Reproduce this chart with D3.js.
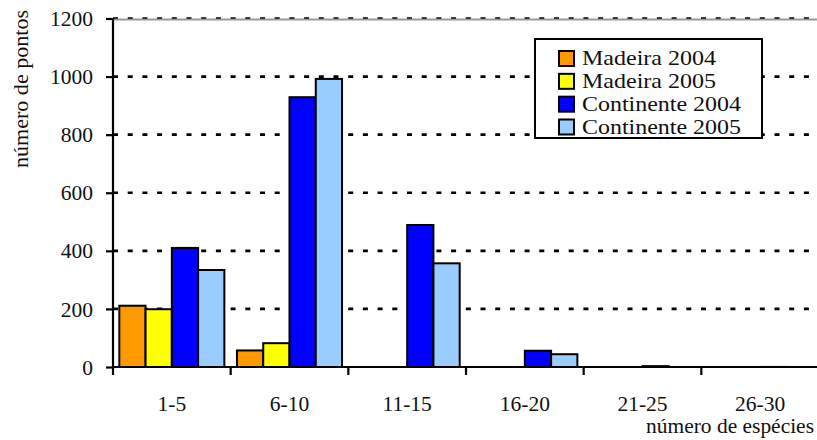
<!DOCTYPE html>
<html>
<head>
<meta charset="utf-8">
<script src="https://cdn.jsdelivr.net/npm/d3@7"></script>
<style>
  html, body { margin: 0; padding: 0; background: #fff; }
  #chart, #chart text { font-family: "Liberation Serif" !important; }
</style>
</head>
<body>
<svg id="chart" width="817" height="440" font-family="Liberation Serif"></svg>
<script>
// Species-count classes and number of survey points per class
const categories = ["1-5", "6-10", "11-15", "16-20", "21-25", "26-30"];
const seriesNames = ["Madeira 2004", "Madeira 2005", "Continente 2004", "Continente 2005"];
const madeira2004 = [211, 57, 0, 0, 0, 0];
const madeira2005 = [199, 82, 0, 0, 0, 0];
const continente2004 = [410, 929, 489, 56, 3, 1];
const continente2005 = [334, 992, 357, 44, 0, 0];
const yTicks = [0, 200, 400, 600, 800, 1000, 1200];
const colors = ["#FF9900", "#FFFF00", "#0000FF", "#99CCFF"];

const seriesValues = [madeira2004, madeira2005, continente2004, continente2005];
const FONT = '"Liberation Serif"';

const svg = d3.select("#chart");
const plotLeft = 113, plotRight = 819, plotTop = 18.5, plotBottom = 367;

const x = d3.scaleBand().domain(categories).range([plotLeft, plotRight]).paddingInner(0).paddingOuter(0);
const xs = d3.scaleBand().domain(seriesNames).range([0, x.bandwidth()]).paddingInner(0).paddingOuter(0.24);
const y = d3.scaleLinear().domain([0, 1200]).range([plotBottom, plotTop]);
const color = d3.scaleOrdinal().domain(seriesNames).range(colors);

// top border of the plot area
svg.append("line")
  .attr("x1", plotLeft).attr("x2", plotRight)
  .attr("y1", y(1200) + 1).attr("y2", y(1200) + 1)
  .attr("stroke", "#999").attr("stroke-width", 2.2);

// dotted horizontal gridlines
svg.append("g").selectAll("line")
  .data(yTicks.filter(d => d > 0))
  .join("line")
  .attr("x1", plotLeft).attr("x2", plotRight)
  .attr("y1", d => d === 1200 ? y(d) - 0.5 : y(d))
  .attr("y2", d => d === 1200 ? y(d) - 0.5 : y(d))
  .attr("stroke", "#000")
  .attr("stroke-width", d => d === 1200 ? 1.5 : 2.6)
  .attr("stroke-dasharray", "5,9.7");

// bars
const rows = [];
seriesValues.forEach((vals, si) => {
  vals.forEach((v, ci) => rows.push({ series: seriesNames[si], cat: categories[ci], value: v }));
});

svg.append("g").selectAll("rect")
  .data(rows.filter(d => d.value > 0))
  .join("rect")
  .attr("x", d => x(d.cat) + xs(d.series))
  .attr("width", xs.bandwidth())
  .attr("y", d => y(d.value))
  .attr("height", d => y(0) - y(d.value))
  .attr("fill", d => color(d.series))
  .attr("stroke", d => d.value < 2 ? "#555" : "#000")
  .attr("stroke-width", d => d.value < 2 ? 1.6 : 2);

// y axis
const yAxis = svg.append("g")
  .attr("transform", `translate(${plotLeft},0)`)
  .call(d3.axisLeft(y).tickValues(yTicks).tickSize(7).tickPadding(13).tickFormat(d3.format("d")))
  .attr("font-family", "Liberation Serif").attr("font-size", 21.5);
yAxis.select(".domain").attr("stroke", "#000").attr("stroke-width", 2.2)
  .attr("d", `M0,${y(1200) - 0.5}V${plotBottom + 8}`);
yAxis.selectAll(".tick line").attr("stroke", "#000").attr("stroke-width", 2.2);
yAxis.selectAll(".tick text")
  .attr("font-family", "Liberation Serif")
  .style("font-family", FONT).style("font-size", "21.5px")
  .attr("fill", "#111").attr("dy", "0.33em");

// x axis: category labels centred in each band
const xAxis = svg.append("g")
  .attr("transform", `translate(0,${plotBottom})`)
  .call(d3.axisBottom(x).tickSize(0).tickPadding(0))
  .attr("font-family", "Liberation Serif").attr("font-size", 21.5);
xAxis.select(".domain").attr("stroke", "#000").attr("stroke-width", 2.2)
  .attr("d", `M${plotLeft},0H${plotRight}`);
xAxis.selectAll(".tick text")
  .attr("font-family", "Liberation Serif")
  .style("font-family", FONT).style("font-size", "21.5px")
  .attr("fill", "#111")
  .attr("y", 44).attr("dy", 0);

// tick marks on the category boundaries
svg.append("g").selectAll("line")
  .data(categories.slice(1))
  .join("line")
  .attr("x1", d => x(d)).attr("x2", d => x(d))
  .attr("y1", plotBottom).attr("y2", plotBottom + 8)
  .attr("stroke", "#000").attr("stroke-width", 2.2);

// axis titles
svg.append("text")
  .attr("transform", "translate(28,168) rotate(-90)")
  .attr("font-family", "Liberation Serif")
  .style("font-family", FONT).style("font-size", "20px")
  .attr("fill", "#111")
  .attr("textLength", 158).attr("lengthAdjust", "spacingAndGlyphs")
  .text("número de pontos");

svg.append("text")
  .attr("x", 646).attr("y", 433)
  .attr("font-family", "Liberation Serif")
  .style("font-family", FONT).style("font-size", "21px")
  .attr("fill", "#111")
  .attr("textLength", 168).attr("lengthAdjust", "spacingAndGlyphs")
  .text("número de espécies");

// legend
const legend = svg.append("g");
legend.append("rect")
  .attr("x", 535).attr("y", 39).attr("width", 227).attr("height", 99)
  .attr("fill", "#fff").attr("stroke", "#000").attr("stroke-width", 2);

const rowY = d3.scalePoint().domain(seriesNames).range([58.5, 127]);
const item = legend.selectAll("g.item")
  .data(seriesNames)
  .join("g").attr("class", "item")
  .attr("transform", d => `translate(0,${rowY(d)})`);
item.append("rect")
  .attr("x", 559).attr("y", -7.5).attr("width", 15).attr("height", 15)
  .attr("fill", d => color(d)).attr("stroke", "#000").attr("stroke-width", 2);
item.append("text")
  .attr("x", 582).attr("dy", "0.33em")
  .attr("font-family", "Liberation Serif")
  .style("font-family", FONT).style("font-size", "21px")
  .attr("fill", "#111")
  .attr("textLength", d => d.startsWith("Madeira") ? 134 : 159)
  .attr("lengthAdjust", "spacingAndGlyphs")
  .text(d => d);
</script>
</body>
</html>
